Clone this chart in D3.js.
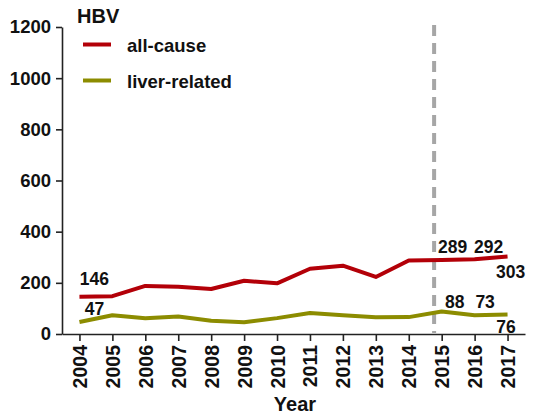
<!DOCTYPE html>
<html><head><meta charset="utf-8">
<script src="https://cdn.jsdelivr.net/npm/d3@7"></script>
<style>
html,body{margin:0;padding:0;background:#fff;}
svg text{font-family:"Liberation Sans",Arial,sans-serif;font-weight:bold;fill:#111;}
</style></head>
<body><svg id="c" width="534" height="419"></svg>
<script>
const years = [2004,2005,2006,2007,2008,2009,2010,2011,2012,2013,2014,2015,2016,2017];
const allCause = [146,148,188,185,176,208,198,255,267,223,287,289,292,303];
const liverRelated = [47,73,62,68,52,46,62,82,73,65,66,88,73,76];
const yTicks = [0,200,400,600,800,1000,1200];
const seriesNames = ["all-cause","liver-related"];
const seriesColors = ["#b30008","#8c8c00"];
const title = "HBV";
const xTitle = "Year";
const dashedAt = 2014.77;
const allLabelYears = [2004,2015,2016,2017];
const liverLabelYears = [2004,2015,2016,2017];

(function(){
// label offsets (layout only): [dx, dy] per labelled year
const allOff = {2004:[15,-11.5],2015:[11,-7],2016:[14,-6.5],2017:[3,21.5]};
const livOff = {2004:[15,-6.5],2015:[13,-3.5],2016:[10.5,-7],2017:[-1.5,18]};

const svg = d3.select("#c");
const pLeft=62, pRight=525, pTop=27, pBottom=334;
const x = d3.scaleLinear().domain([2003.47,2017.53]).range([pLeft,pRight]);
const y = d3.scaleLinear().domain([0,1200]).range([pBottom,pTop]);

const ya = svg.append("g").attr("transform",`translate(${pLeft},0)`)
  .call(d3.axisLeft(y).tickValues(yTicks).tickFormat(d3.format("d")).tickSize(6).tickPadding(5).tickSizeOuter(0));
ya.select(".domain").attr("stroke","#222").attr("stroke-width",1.6);
ya.selectAll(".tick line").attr("stroke","#222").attr("stroke-width",1.6);
ya.selectAll(".tick text").attr("font-size","18.5px").attr("fill","#111");

const xa = svg.append("g").attr("transform",`translate(0,${pBottom})`)
  .call(d3.axisBottom(x).tickValues(years).tickFormat(d3.format("d")).tickSize(7).tickSizeOuter(0));
xa.select(".domain").attr("stroke","#222").attr("stroke-width",1.6);
xa.selectAll(".tick line").attr("stroke","#222").attr("stroke-width",1.6);
xa.selectAll(".tick text").attr("font-size","19.5px").attr("fill","#111")
  .attr("text-anchor","end").attr("transform","rotate(-90)")
  .attr("x",-11).attr("y",0).attr("dy","0.36em");

svg.append("line").attr("x1",x(dashedAt)).attr("x2",x(dashedAt))
  .attr("y1",25).attr("y2",pBottom-1)
  .attr("stroke","#a6a6a6").attr("stroke-width",4).attr("stroke-dasharray","11,7");

const line = d3.line().x((d,i)=>x(years[i])).y(d=>y(d));
[allCause,liverRelated].forEach((s,k)=>{
  svg.append("path").datum(s).attr("d",line).attr("fill","none")
    .attr("stroke",seriesColors[k]).attr("stroke-width",4).attr("stroke-linejoin","round");
});

function lbl(yrs, series, off){
  yrs.forEach(yr=>{
    const v = series[years.indexOf(yr)];
    svg.append("text").attr("x",x(yr)+off[yr][0])
      .attr("y", y(v) + off[yr][1])
      .attr("text-anchor","middle").attr("font-size","17.5px").text(v);
  });
}
lbl(allLabelYears, allCause, allOff);
lbl(liverLabelYears, liverRelated, livOff);

svg.append("text").attr("x",77).attr("y",23).attr("font-size","20px").text(title);
seriesNames.forEach((n,i)=>{
  const yy = 44.5 + i*36;
  svg.append("line").attr("x1",83).attr("x2",111).attr("y1",yy).attr("y2",yy)
    .attr("stroke",seriesColors[i]).attr("stroke-width",4);
  svg.append("text").attr("x",127).attr("y",yy+7).attr("font-size","18.5px").text(n);
});
svg.append("text").attr("x",295).attr("y",411).attr("text-anchor","middle").attr("font-size","20px").text(xTitle);
})();
</script></body></html>
